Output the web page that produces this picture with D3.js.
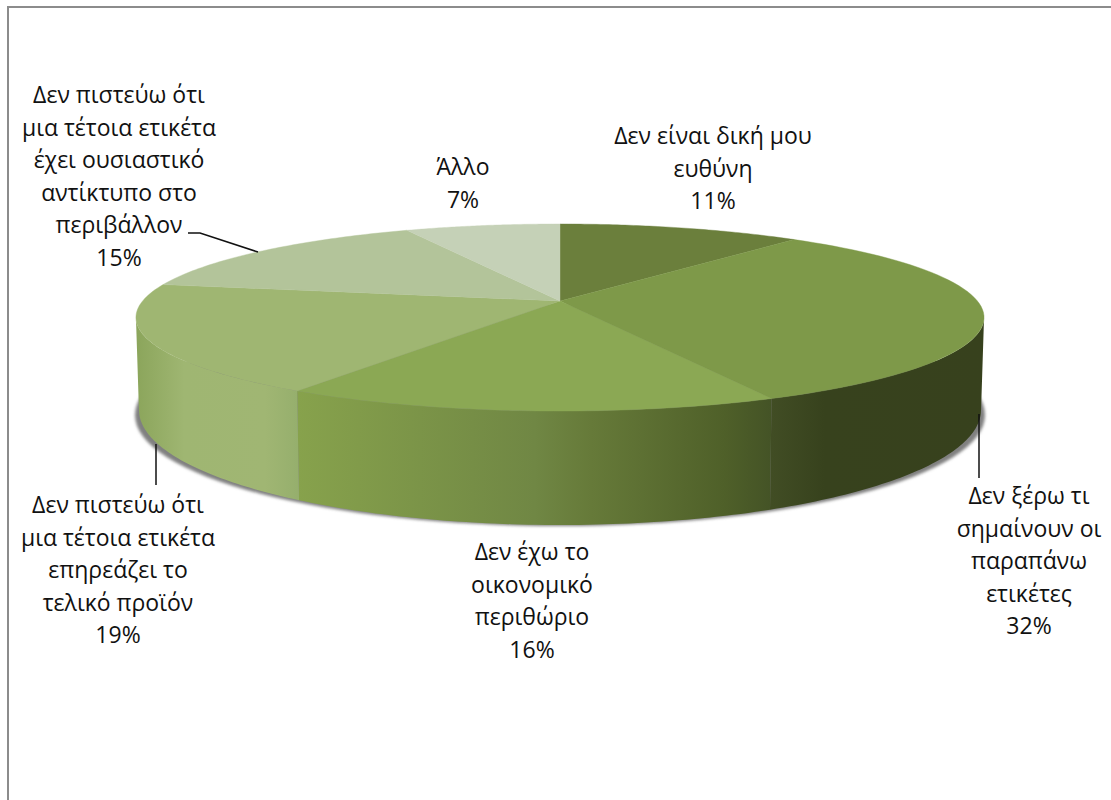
<!DOCTYPE html>
<html>
<head>
<meta charset="utf-8">
<script src="https://cdn.jsdelivr.net/npm/d3@7"></script>
<style>
html, body { margin: 0; padding: 0; background: #fff; }
svg { display: block; }
text { font-family: "Open Sans", sans-serif; font-size: 23px; fill: #111; }
</style>
</head>
<body>
<svg id="chart" width="1111" height="800"></svg>
<script>
const categories = [
  "Δεν είναι δική μου ευθύνη",
  "Δεν ξέρω τι σημαίνουν οι παραπάνω ετικέτες",
  "Δεν έχω το οικονομικό περιθώριο",
  "Δεν πιστεύω ότι μια τέτοια ετικέτα επηρεάζει το τελικό προϊόν",
  "Δεν πιστεύω ότι μια τέτοια ετικέτα έχει ουσιαστικό αντίκτυπο στο περιβάλλον",
  "Άλλο"
];
const shares = [11, 32, 16, 19, 15, 7];
const topColors = ["#6b7f3c", "#7e9949", "#8ba854", "#9fb672", "#b3c49a", "#c5d1b7"];
const sideStops = [
  [],
  [[0, "#414d24"], [0.25, "#37421d"], [1, "#37411d"]],
  [[0, "#87a24c"], [0.5, "#708744"], [0.62, "#667a39"], [0.9, "#4f6029"], [1, "#445326"]],
  [[0, "#8ba55b"], [0.3, "#9fb672"], [0.8, "#a0b673"], [1, "#96af6d"]],
  [],
  []
];
const labelLines = [
  ["Δεν είναι δική μου", "ευθύνη", "11%"],
  ["Δεν ξέρω τι", "σημαίνουν οι", "παραπάνω", "ετικέτες", "32%"],
  ["Δεν έχω το", "οικονομικό", "περιθώριο", "16%"],
  ["Δεν πιστεύω ότι", "μια τέτοια ετικέτα", "επηρεάζει το", "τελικό προϊόν", "19%"],
  ["Δεν πιστεύω ότι", "μια τέτοια ετικέτα", "έχει ουσιαστικό", "αντίκτυπο στο", "περιβάλλον", "15%"],
  ["Άλλο", "7%"]
];
const labelAnchors = [[713, 144], [1029, 504], [532, 560], [118, 513], [119, 103], [463, 175]];
const lineStep = 32.5;

const svg = d3.select("#chart");
const defs = svg.append("defs");

// Frame of the chart area: it runs off the right and bottom of the page
svg.append("path")
  .attr("d", "M8,800V7H1111")
  .attr("fill", "none")
  .attr("stroke", "#8c8c8c")
  .attr("stroke-width", 2);

// Perspective view of the pie disc: (u, v) on the unit circle, v pointing to the back
const cx = 560, cy = 301, persp = 0.1765, scaleX = 417.4, scaleY = 90.6;
const rimX = 421, rimCy = 410, rimRy = 115;
const rimScale = rimX / 424;

function topPoint(a) {
  const u = Math.sin(a), v = Math.cos(a), w = 1 + persp * v;
  return [cx + scaleX * u / w, cy - scaleY * v / w];
}
function lowerPoint(a) {
  const t = topPoint(a);
  const dx = (t[0] - cx) * rimScale;
  const r = Math.min(1, Math.abs(dx) / rimX);
  return [cx + dx, rimCy + rimRy * Math.sqrt(1 - r * r)];
}

const pie = d3.pie().sort(null).value(d => d);
const arcs = pie(shares);
const line = d3.line();

function samples(a0, a1) {
  return d3.range(0, 61).map(i => a0 + (a1 - a0) * i / 60);
}

// Soft shadow under the disc
defs.append("filter").attr("id", "soft")
  .attr("x", "-5%").attr("y", "-10%").attr("width", "110%").attr("height", "120%")
  .append("feGaussianBlur").attr("stdDeviation", 1.8);
svg.append("ellipse")
  .attr("cx", cx).attr("cy", 415)
  .attr("rx", 425).attr("ry", 111)
  .attr("fill", "#808080")
  .attr("filter", "url(#soft)");

// Outer wall, visible between the two silhouette angles
const wallFrom = Math.acos(-persp);
const wallTo = 2 * Math.PI - wallFrom;

arcs.forEach((d, i) => {
  const a0 = Math.max(d.startAngle, wallFrom);
  const a1 = Math.min(d.endAngle, wallTo);
  if (a1 <= a0) return;
  const upper = samples(a0, a1).map(topPoint);
  const lower = samples(a0, a1).map(lowerPoint).reverse();
  const xs = upper.map(p => p[0]);
  const gradient = defs.append("linearGradient")
    .attr("id", "wall" + i)
    .attr("gradientUnits", "userSpaceOnUse")
    .attr("x1", d3.min(xs)).attr("x2", d3.max(xs))
    .attr("y1", 0).attr("y2", 0);
  sideStops[i].forEach(s => {
    gradient.append("stop").attr("offset", s[0]).attr("stop-color", s[1]);
  });
  svg.append("path")
    .attr("d", line(upper.concat(lower)) + "Z")
    .attr("fill", `url(#wall${i})`);
});

// Top face
arcs.forEach((d, i) => {
  const rim = samples(d.startAngle, d.endAngle).map(topPoint);
  svg.append("path")
    .attr("d", line([[cx, cy]].concat(rim)) + "Z")
    .attr("fill", topColors[i])
    .attr("stroke", topColors[i])
    .attr("stroke-width", 0.4);
});

// Leader lines from the labels to their slices
const leaders = [
  [[156, 444], [156, 485]],
  [[979, 414], [979, 478]],
  [[188, 233], [200, 233], [258, 252]]
];
leaders.forEach(pts => {
  svg.append("path")
    .attr("d", line(pts))
    .attr("fill", "none")
    .attr("stroke", "#111")
    .attr("stroke-width", 1.5);
});

// Data labels
labelLines.forEach((lines, i) => {
  const t = svg.append("text")
    .attr("text-anchor", "middle")
    .attr("x", labelAnchors[i][0])
    .attr("y", labelAnchors[i][1]);
  lines.forEach((s, j) => {
    t.append("tspan")
      .attr("x", labelAnchors[i][0])
      .attr("y", labelAnchors[i][1] + j * lineStep)
      .text(s);
  });
});
</script>
</body>
</html>
